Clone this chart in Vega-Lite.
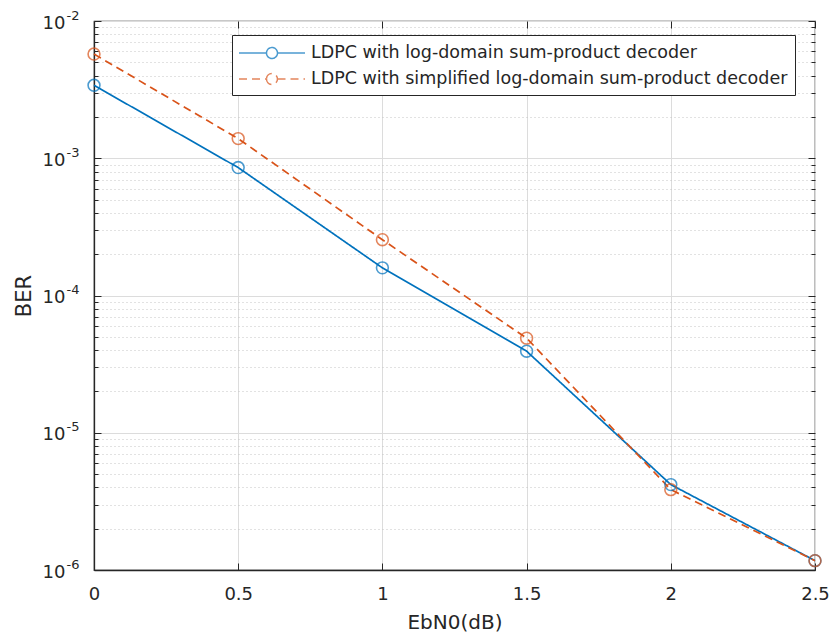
{
  "$schema": "https://vega.github.io/schema/vega-lite/v6.json",
  "autosize": "none",
  "width": 721,
  "height": 549,
  "padding": {"left": 94, "top": 21, "right": 17, "bottom": 71},
  "background": "white",
  "config": {
    "view": {"stroke": "#262626", "strokeWidth": 1.2},
    "font": "DejaVu Sans",
    "axis": {
      "labelFont": "DejaVu Sans",
      "titleFont": "DejaVu Sans",
      "labelColor": "#262626",
      "titleColor": "#262626",
      "domainColor": "#262626",
      "tickColor": "#262626",
      "titleFontWeight": "normal",
      "labelFontSize": 18,
      "titleFontSize": 20
    }
  },
  "data": {
    "values": [
      {"ebn0": 0, "ber": 0.0034, "series": "LDPC with log-domain sum-product decoder"},
      {"ebn0": 0.5, "ber": 0.000855, "series": "LDPC with log-domain sum-product decoder"},
      {"ebn0": 1, "ber": 0.000159, "series": "LDPC with log-domain sum-product decoder"},
      {"ebn0": 1.5, "ber": 0.0000393, "series": "LDPC with log-domain sum-product decoder"},
      {"ebn0": 2, "ber": 0.00000419, "series": "LDPC with log-domain sum-product decoder"},
      {"ebn0": 2.5, "ber": 0.00000117, "series": "LDPC with log-domain sum-product decoder"},
      {"ebn0": 0, "ber": 0.00574, "series": "LDPC with simplified log-domain sum-product decoder"},
      {"ebn0": 0.5, "ber": 0.00139, "series": "LDPC with simplified log-domain sum-product decoder"},
      {"ebn0": 1, "ber": 0.000255, "series": "LDPC with simplified log-domain sum-product decoder"},
      {"ebn0": 1.5, "ber": 0.0000489, "series": "LDPC with simplified log-domain sum-product decoder"},
      {"ebn0": 2, "ber": 0.00000385, "series": "LDPC with simplified log-domain sum-product decoder"},
      {"ebn0": 2.5, "ber": 0.00000117, "series": "LDPC with simplified log-domain sum-product decoder"}
    ]
  },
  "resolve": {"axis": {"x": "independent", "y": "independent"}},
  "layer": [
    {
      "mark": {"type": "line", "strokeWidth": 1.7},
      "encoding": {
        "x": {
          "field": "ebn0", "type": "quantitative",
          "scale": {"domain": [0, 2.5], "nice": false, "zero": false},
          "axis": {
            "orient": "bottom",
            "title": "EbN0(dB)",
            "values": [0, 0.5, 1, 1.5, 2, 2.5],
            "format": "~g",
            "grid": true,
            "gridColor": "#dcdcdc",
            "gridWidth": 1,
            "tickSize": -7,
            "labelPadding": 22,
            "labelFlush": false,
            "labelOverlap": false,
            "titlePadding": 9,
            "domainWidth": 1.3
          }
        },
        "y": {
          "field": "ber", "type": "quantitative",
          "scale": {"type": "log", "domain": [0.000001, 0.01], "nice": false},
          "axis": {
            "orient": "left",
            "title": "BER",
            "titleFontSize": 21,
            "values": [0.000001, 0.000002, 0.000003, 0.000004, 0.000005, 0.000006, 0.000007, 0.000008, 0.000009,
                       0.00001, 0.00002, 0.00003, 0.00004, 0.00005, 0.00006, 0.00007, 0.00008, 0.00009,
                       0.0001, 0.0002, 0.0003, 0.0004, 0.0005, 0.0006, 0.0007, 0.0008, 0.0009,
                       0.001, 0.002, 0.003, 0.004, 0.005, 0.006, 0.007, 0.008, 0.009, 0.01],
            "labelExpr": "abs(log(datum.value)/LN10 - round(log(datum.value)/LN10)) < 0.000001 ? '10' : ''",
            "labelOverlap": false,
            "labelFontSize": 18,
            "labelPadding": 36,
            "labelOffset": 2,
            "grid": true,
            "gridColor": {"condition": {"test": "abs(log(datum.value)/LN10 - round(log(datum.value)/LN10)) < 0.000001", "value": "#dcdcdc"}, "value": "#c4c4c4"},
            "gridDash": {"condition": {"test": "abs(log(datum.value)/LN10 - round(log(datum.value)/LN10)) < 0.000001", "value": []}, "value": [1, 3]},
            "tickSize": {"condition": {"test": "abs(log(datum.value)/LN10 - round(log(datum.value)/LN10)) < 0.000001", "value": -7}, "value": -4},
            "titlePadding": 8,
            "domainWidth": 1.3
          }
        },
        "color": {
          "field": "series", "type": "nominal",
          "scale": {"domain": ["LDPC with log-domain sum-product decoder", "LDPC with simplified log-domain sum-product decoder"], "range": ["#0072BD", "#D95319"]},
          "legend": {
            "title": null,
            "orient": "none",
            "legendX": 138,
            "legendY": 14,
            "fillColor": "white",
            "strokeColor": "#262626",
            "padding": 7,
            "symbolType": "M-3.3,0H-0.55M0.55,0H3.3M-0.55,0A0.55,0.55 0 1,0 0.55,0A0.55,0.55 0 1,0 -0.55,0",
            "symbolSize": 400,
            "symbolStrokeWidth": 1.5,
            "symbolFillColor": "transparent",
            "symbolOffset": 22,
            "labelOffset": 28,
            "labelFontSize": 17.5,
            "labelFont": "DejaVu Sans",
            "labelColor": "#262626",
            "labelLimit": 700,
            "rowPadding": 6
          }
        },
        "strokeDash": {
          "field": "series", "type": "nominal",
          "scale": {"domain": ["LDPC with log-domain sum-product decoder", "LDPC with simplified log-domain sum-product decoder"], "range": [[1, 0], [8, 5]]},
          "legend": {
            "title": null,
            "orient": "none",
            "legendX": 138,
            "legendY": 14,
            "fillColor": "white",
            "strokeColor": "#262626",
            "padding": 7,
            "symbolType": "M-3.3,0H-0.55M0.55,0H3.3M-0.55,0A0.55,0.55 0 1,0 0.55,0A0.55,0.55 0 1,0 -0.55,0",
            "symbolSize": 400,
            "symbolStrokeWidth": 1.5,
            "symbolFillColor": "transparent",
            "symbolOffset": 22,
            "labelOffset": 28,
            "labelFontSize": 17.5,
            "labelFont": "DejaVu Sans",
            "labelColor": "#262626",
            "labelLimit": 700,
            "rowPadding": 6
          }
        }
      }
    },
    {
      "mark": {"type": "point", "shape": "circle", "filled": false, "size": 140, "strokeWidth": 1.6},
      "encoding": {
        "x": {
          "field": "ebn0", "type": "quantitative",
          "axis": {
            "orient": "top",
            "title": null,
            "values": [0, 0.5, 1, 1.5, 2, 2.5],
            "labels": false,
            "grid": false,
            "domain": false,
            "tickSize": -7
          }
        },
        "y": {
          "field": "ber", "type": "quantitative",
          "axis": {
            "orient": "right",
            "title": null,
            "values": [0.000001, 0.000002, 0.000003, 0.000004, 0.000005, 0.000006, 0.000007, 0.000008, 0.000009,
                       0.00001, 0.00002, 0.00003, 0.00004, 0.00005, 0.00006, 0.00007, 0.00008, 0.00009,
                       0.0001, 0.0002, 0.0003, 0.0004, 0.0005, 0.0006, 0.0007, 0.0008, 0.0009,
                       0.001, 0.002, 0.003, 0.004, 0.005, 0.006, 0.007, 0.008, 0.009, 0.01],
            "labels": false,
            "grid": false,
            "domain": false,
            "tickSize": {"condition": {"test": "abs(log(datum.value)/LN10 - round(log(datum.value)/LN10)) < 0.000001", "value": -7}, "value": -4}
          }
        },
        "color": {"field": "series", "type": "nominal"}
      }
    },
    {
      "mark": {"type": "point", "opacity": 0},
      "encoding": {
        "x": {"field": "ebn0", "type": "quantitative", "axis": null},
        "y": {
          "field": "ber", "type": "quantitative",
          "axis": {
            "orient": "left",
            "title": null,
            "values": [0.000001, 0.00001, 0.0001, 0.001, 0.01],
            "labelExpr": "'-' + (-round(log(datum.value)/LN10))",
            "labelAlign": "left",
            "labelBaseline": "middle",
            "labelFontSize": 13,
            "labelPadding": 28,
            "labelOffset": -6,
            "labelOverlap": false,
            "ticks": false,
            "domain": false,
            "grid": false
          }
        }
      }
    }
  ]
}
